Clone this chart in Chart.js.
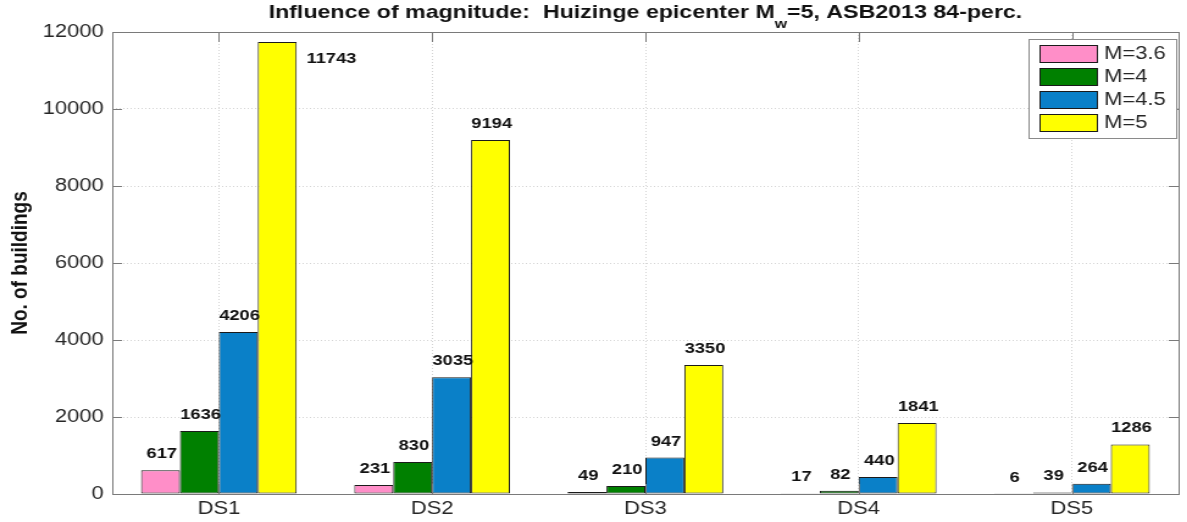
<!DOCTYPE html>
<html>
<head>
<meta charset="utf-8">
<script src="https://cdn.jsdelivr.net/npm/chart.js@4"></script>
<style>
  html, body { margin: 0; padding: 0; background: #fff; overflow: hidden; }
  #chart { display: block; transform: scaleX(1.22); transform-origin: 0 0; }
</style>
</head>
<body>
<canvas id="chart" width="973" height="522"></canvas>
<script>
const CATEGORIES = ["DS1", "DS2", "DS3", "DS4", "DS5"];
const SERIES_LABELS = ["M=3.6", "M=4", "M=4.5", "M=5"];
const VALUES_M36 = [617, 231, 49, 17, 6];
const VALUES_M4 = [1636, 830, 210, 82, 39];
const VALUES_M45 = [4206, 3035, 947, 440, 264];
const VALUES_M5 = [11743, 9194, 3350, 1841, 1286];
const Y_MIN = 0;
const Y_MAX = 12000;
const Y_STEP = 2000;

const COLORS = ["#ff8ec8", "#008000", "#0a80c8", "#ffff00"];
const AXIS_COLOR = "#7a7a7a";
const TEXT_COLOR = "#262626";
const FONT = "'Liberation Sans', Arial, Helvetica, sans-serif";

const TITLE_PARTS = ["Influence of magnitude:  Huizinge epicenter M", "w", "=5, ASB2013 84-perc."];

// matlab style box, inward ticks, value labels, legend, title with subscript
const matlabLook = {
  id: "matlabLook",
  afterDatasetsDraw(chart) {
    const ctx = chart.ctx;
    const area = chart.chartArea;
    const yScale = chart.scales.y;
    const xScale = chart.scales.x;

    ctx.save();
    ctx.strokeStyle = AXIS_COLOR;
    ctx.lineWidth = 1;
    ctx.strokeRect(Math.round(area.left) + 0.5, Math.round(area.top) + 0.5,
      Math.round(area.right - area.left), Math.round(area.bottom - area.top));

    ctx.beginPath();
    yScale.ticks.forEach((t) => {
      const y = Math.round(yScale.getPixelForValue(t.value)) + 0.5;
      ctx.moveTo(area.left, y);
      ctx.lineTo(area.left + 8, y);
      ctx.moveTo(area.right, y);
      ctx.lineTo(area.right - 8, y);
    });
    CATEGORIES.forEach((c, i) => {
      const x = Math.round(xScale.getPixelForValue(i)) + 0.5;
      ctx.moveTo(x, area.top);
      ctx.lineTo(x, area.top + 10);
      ctx.moveTo(x, area.bottom);
      ctx.lineTo(x, area.bottom - 10);
    });
    ctx.stroke();

    // value labels
    ctx.font = "bold 15px " + FONT;
    ctx.fillStyle = "#111";
    chart.data.datasets.forEach((ds, di) => {
      const meta = chart.getDatasetMeta(di);
      meta.data.forEach((bar, i) => {
        const txt = String(ds.data[i]);
        ctx.textBaseline = "alphabetic";
        if (bar.y - 26 < area.top) {
          ctx.textAlign = "left";
          ctx.fillText(txt, bar.x + bar.width / 2 + 8, bar.y + 21);
        } else {
          ctx.textAlign = "center";
          ctx.fillText(txt, bar.x + 1, bar.y - 12);
        }
      });
    });
    ctx.restore();
  },
  afterDraw(chart) {
    const ctx = chart.ctx;
    const area = chart.chartArea;
    ctx.save();

    // legend
    const lx = 843, ly = 39, lw = 121, lh = 99;
    ctx.fillStyle = "#fff";
    ctx.fillRect(lx, ly, lw, lh);
    ctx.strokeStyle = "#8a8a8a";
    ctx.lineWidth = 1;
    ctx.strokeRect(lx + 0.5, ly + 0.5, lw, lh);
    ctx.font = "18px " + FONT;
    ctx.textAlign = "left";
    ctx.textBaseline = "middle";
    chart.data.datasets.forEach((ds, i) => {
      const top = 45 + i * 23;
      ctx.fillStyle = ds.backgroundColor;
      ctx.fillRect(852.5, top + 0.5, 47, 17);
      ctx.strokeStyle = "#1a1a1a";
      ctx.strokeRect(852.5, top + 0.5, 47, 17);
      ctx.fillStyle = TEXT_COLOR;
      ctx.fillText(ds.label, 905, top + 9.5);
    });

    // title with subscript
    const mainFont = "bold 19px " + FONT;
    const subFont = "bold 13px " + FONT;
    ctx.font = mainFont;
    const w1 = ctx.measureText(TITLE_PARTS[0]).width;
    const w3 = ctx.measureText(TITLE_PARTS[2]).width;
    ctx.font = subFont;
    const w2 = ctx.measureText(TITLE_PARTS[1]).width;
    let x = (area.left + area.right) / 2 - (w1 + w2 + w3) / 2;
    ctx.fillStyle = "#111";
    ctx.textAlign = "left";
    ctx.textBaseline = "alphabetic";
    ctx.font = mainFont;
    ctx.fillText(TITLE_PARTS[0], x, 18);
    x += w1;
    ctx.font = subFont;
    ctx.fillText(TITLE_PARTS[1], x, 28);
    x += w2;
    ctx.font = mainFont;
    ctx.fillText(TITLE_PARTS[2], x, 18);
    ctx.restore();
  }
};

const seriesValues = [VALUES_M36, VALUES_M4, VALUES_M45, VALUES_M5];

const config = {
  type: "bar",
  data: {
    labels: CATEGORIES,
    datasets: SERIES_LABELS.map((label, i) => ({
      label: label,
      data: seriesValues[i],
      backgroundColor: COLORS[i],
      borderColor: "#1a1a1a",
      borderWidth: 1,
      borderSkipped: false,
      categoryPercentage: 0.73,
      barPercentage: 1.0,
    })),
  },
  options: {
    responsive: false,
    animation: false,
    layout: { padding: { top: 32, right: 7, bottom: 0, left: 0 } },
    plugins: {
      legend: { display: false },
      title: { display: false },
      tooltip: { enabled: false },
    },
    scales: {
      x: {
        offset: true,
        grid: { offset: false, color: "#d4d4d4", drawTicks: false },
        border: { display: false, dash: [1, 2] },
        ticks: { color: TEXT_COLOR, font: { family: FONT, size: 18 }, padding: 4 },
        afterFit: (scale) => { scale.height = 28; },
      },
      y: {
        min: Y_MIN,
        max: Y_MAX,
        grid: { color: "#d4d4d4", drawTicks: false },
        border: { display: false, dash: [1, 2] },
        ticks: {
          stepSize: Y_STEP,
          color: TEXT_COLOR,
          font: { family: FONT, size: 18 },
          padding: 7,
          callback: (value) => String(value),
        },
        title: {
          display: true,
          text: "No. of buildings",
          color: "#111",
          font: { family: FONT, size: 19, weight: "bold" },
          padding: { top: 5, bottom: 0 },
        },
        afterFit: (scale) => { scale.width = 92; },
      },
    },
  },
  plugins: [matlabLook],
};

let chart = new Chart(document.getElementById("chart"), config);
</script>
</body>
</html>
